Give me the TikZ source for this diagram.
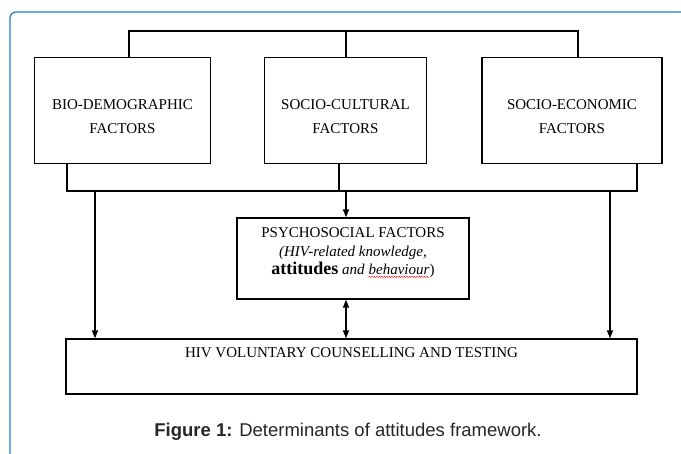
\documentclass[tikz,border=0pt]{standalone}
\usepackage{fontspec}
\setmainfont{Liberation Serif}
\setsansfont{Liberation Sans}
\usetikzlibrary{arrows.meta,decorations.pathmorphing}
\definecolor{frameblue}{RGB}{28,128,210}
\newcommand\redwave[1]{\tikz[baseline=(w.base)]{\node[draw=none,minimum width=0pt,minimum height=0pt,inner sep=0pt,outer sep=0pt] (w) {#1};
 \draw[red,line width=0.4pt,decorate,decoration={snake,amplitude=0.6pt,segment length=2.5pt}] ([yshift=-2pt]w.base west) -- ([yshift=-2pt]w.base east);}}
\tikzset{box/.style={draw,line width=1.3pt,align=center,font=\fontsize{15}{24}\selectfont},
bus/.style={line width=1.5pt},
arr/.style={line width=1.5pt,-{Triangle[length=8pt,width=6pt]}}}

\begin{document}
\begin{tikzpicture}[x=1pt,y=-1pt]
\useasboundingbox (0,0) rectangle (681,454);
\draw[frameblue,line width=1.2pt,rounded corners=6pt] (10,455) -- (10,12) -- (682,12);
% factor boxes
\node[box,minimum width=176pt,minimum height=106pt] (bio) at (122.5,110.5) {\rule{0pt}{22pt}BIO-DEMOGRAPHIC\\FACTORS};
\node[box,minimum width=162pt,minimum height=106pt] (cul) at (345.5,110.5) {\rule{0pt}{22pt}SOCIO-CULTURAL\\FACTORS};
\node[box,minimum width=180pt,minimum height=106pt] (eco) at (572,110.5) {\rule{0pt}{22pt}SOCIO-ECONOMIC\\FACTORS};
\node[box,font=\fontsize{15}{18.5}\selectfont,minimum width=232pt,minimum height=81pt] (psy) at (353,258.5)
 {PSYCHOSOCIAL FACTORS\\\textit{(HIV-related knowledge,}\\{\fontsize{18}{18}\selectfont\bfseries attitudes} \textit{and \redwave{behaviour}})\rule[-14pt]{0pt}{14pt}};
\node[box,minimum width=571pt,minimum height=55pt,
 label={[anchor=north,yshift=-6pt,font=\fontsize{15}{18}\selectfont]north:HIV VOLUNTARY COUNSELLING AND TESTING}] (hiv) at (351.5,366.5) {};
% lines
\coordinate (tl) at (129,31); \coordinate (tm) at (346,31); \coordinate (tr) at (578,31);
\draw[bus] (tl |- bio.north) -- (tl) -- (tr) -- (tr |- eco.north);
\draw[bus] (tm |- cul.north) -- (tm);
\coordinate (bl) at (67,191); \coordinate (br) at (637,191); \coordinate (bm) at (339,191);
\draw[bus] (bl |- bio.south) -- (bl) -- (br) -- (br |- eco.south);
\draw[bus] (bm |- cul.south) -- (bm);
\foreach \X/\N in {95/a1,610/a2}
{\coordinate (\N) at (\X,191);
 \draw[arr] (\N) -- (\N |- hiv.north);}
\coordinate (am) at (346,191);
\draw[arr] (am) -- (am |- psy.north);
\draw[arr,{Triangle[length=8pt,width=6pt]}-{Triangle[length=8pt,width=6pt]}] (am |- psy.south) -- (am |- hiv.north);
\node[font=\sffamily\fontsize{18.5}{20}\selectfont,text=black!85] (cap) at (348,432) {\textbf{Figure 1:} Determinants of attitudes framework.};
\end{tikzpicture}
\end{document}
